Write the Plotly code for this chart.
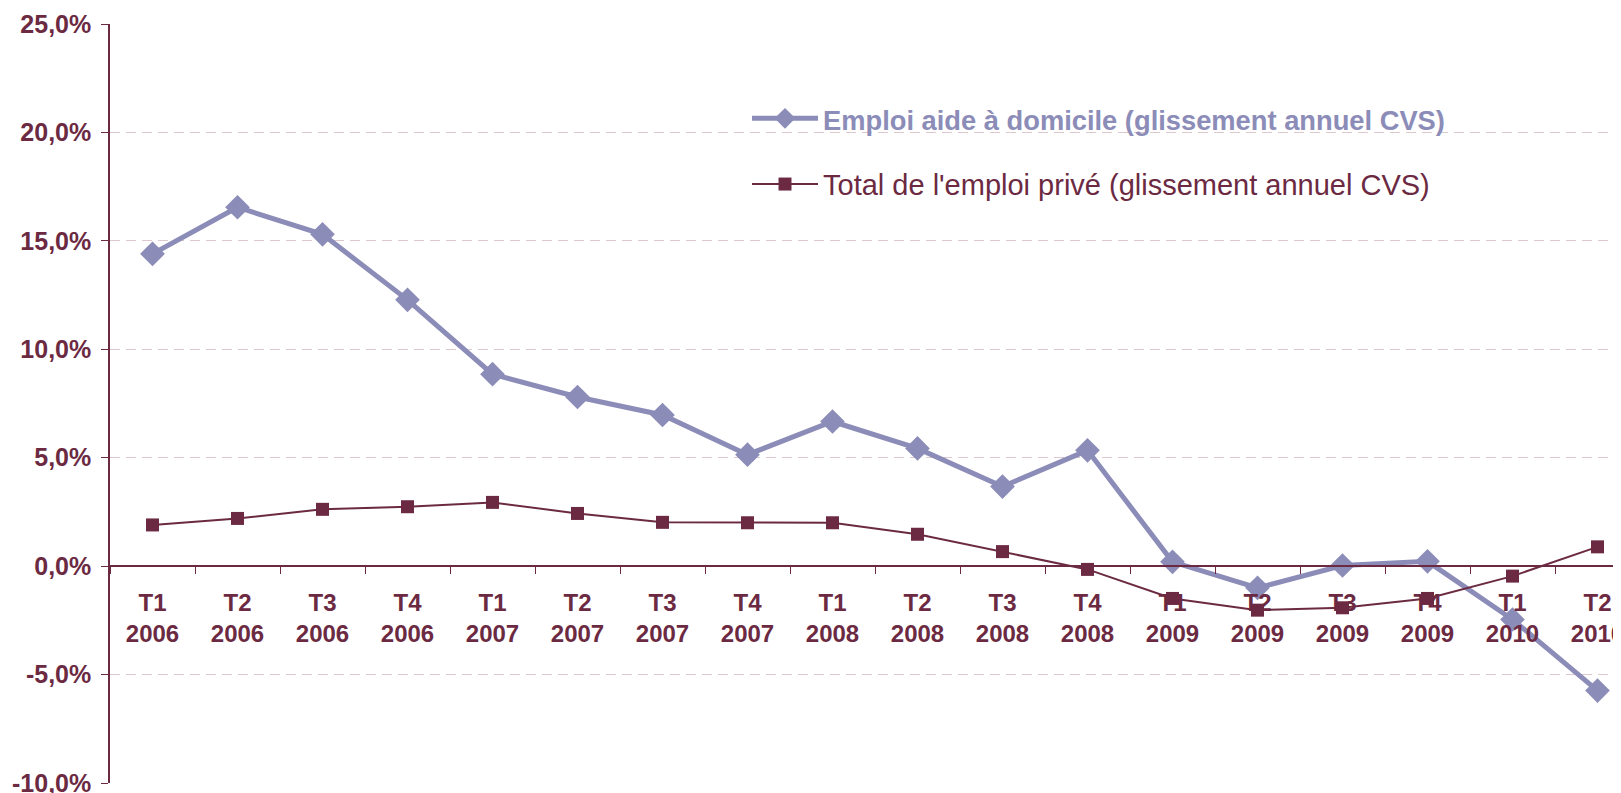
import plotly.graph_objects as go

quarters = ["T1", "T2", "T3", "T4", "T1", "T2", "T3", "T4", "T1", "T2", "T3", "T4",
            "T1", "T2", "T3", "T4", "T1", "T2"]
years = ["2006"] * 4 + ["2007"] * 4 + ["2008"] * 4 + ["2009"] * 4 + ["2010"] * 2
categories = [f"{q}<br>{y}" for q, y in zip(quarters, years)]

aide_domicile = [14.4, 16.55, 15.3, 12.28, 8.85, 7.8, 6.97, 5.14, 6.67, 5.43, 3.67, 5.34,
                 0.2, -1.0, 0.03, 0.22, -2.46, -5.74]
emploi_prive = [1.9, 2.2, 2.62, 2.74, 2.94, 2.43, 2.02, 2.0, 2.0, 1.47, 0.67, -0.15,
                -1.49, -2.03, -1.92, -1.49, -0.46, 0.89]

y_tickvals = [-10, -5, 0, 5, 10, 15, 20, 25]
y_ticktext = ["-10,0%", "-5,0%", "0,0%", "5,0%", "10,0%", "15,0%", "20,0%", "25,0%"]

MAROON = "#6b2a42"
LAVENDER = "#8c8cb8"
FONT = "Liberation Sans, Arial, sans-serif"

# page body margin offset (figure is placed at 8,8 in the page)
OFF = 8
W, H = 1621 - OFF, 793 - OFF
# desired plot area in screen pixels
px0, px1, py0, py1 = 110, 1621, 24, 783
ml, mr, mt, mb = px0 - OFF, 0, py0 - OFF, H - (py1 - OFF)
pw = W - ml - mr
ph = H - mt - mb
spacing = 85.0
xmax = -0.5 + pw / spacing


def fx(sx):
    return (sx - px0) / pw


def fy(sy):
    return 1 - (sy - py0) / ph


fig = go.Figure()
fig.add_trace(go.Scatter(
    x=categories, y=aide_domicile, mode="lines+markers",
    name=f"<span style='color:{LAVENDER};font-size:27.3px'><b>Emploi aide à domicile (glissement annuel CVS)</b></span>",
    line=dict(color=LAVENDER, width=5),
    marker=dict(symbol="diamond", size=19, color=LAVENDER),
    legendgroup="a",
))
fig.add_trace(go.Scatter(
    x=categories, y=emploi_prive, mode="lines+markers",
    name="Total de l'emploi privé (glissement annuel CVS)",
    line=dict(color=MAROON, width=2),
    marker=dict(symbol="square", size=13, color=MAROON),
    legendgroup="b",
))

# white box behind legend (hides gridline)
fig.add_shape(type="rect", xref="paper", yref="paper",
              x0=fx(655), x1=fx(1532), y0=fy(215), y1=fy(88),
              fillcolor="white", line=dict(width=0), layer="between")

fig.update_layout(
    width=W, height=H,
    margin=dict(l=ml, r=mr, t=mt, b=mb, autoexpand=False),
    paper_bgcolor="white", plot_bgcolor="white",
    font=dict(family=FONT, color=MAROON),
    showlegend=True,
    legend=dict(
        x=fx(747), y=fy(93),
        xanchor="left", yanchor="top",
        bgcolor="rgba(255,255,255,0)",
        font=dict(size=29, family=FONT, color=MAROON),
        traceorder="grouped", tracegroupgap=25,
        itemwidth=66,
    ),
    xaxis=dict(
        type="category", range=[-0.5, xmax],
        anchor="free", position=10 / 35,
        showline=True, linecolor=MAROON, linewidth=1.5,
        ticks="outside", tickson="boundaries", ticklen=7, tickcolor=MAROON, tickwidth=1.2,
        showgrid=False, automargin=False,
        tickfont=dict(size=24, color=MAROON, family=FONT, weight="bold"),
        ticklabelstandoff=15,
    ),
    yaxis=dict(
        range=[-10, 25], tickvals=y_tickvals, ticktext=y_ticktext,
        showline=True, linecolor=MAROON, linewidth=1.5,
        ticks="outside", ticklen=7, tickcolor=MAROON, tickwidth=1.2,
        showgrid=True, gridcolor="#dcc8cd", gridwidth=1, griddash="10px,6px",
        zeroline=False, automargin=False,
        ticklabeloverflow="allow",
        tickfont=dict(size=25, color=MAROON, family=FONT, weight="bold"),
        ticklabelstandoff=5,
    ),
)

fig.write_html("out.html")
